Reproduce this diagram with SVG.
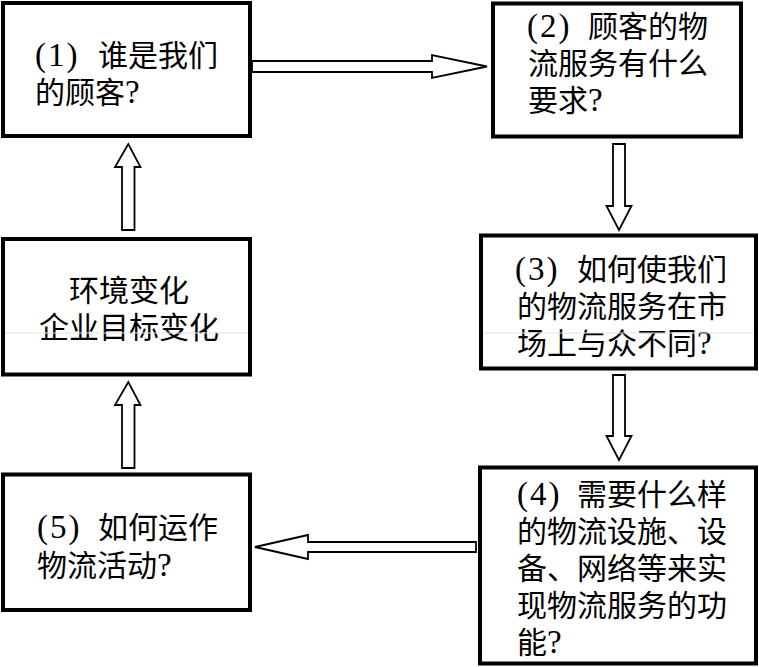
<svg xmlns="http://www.w3.org/2000/svg" width="759" height="667" viewBox="0 0 759 667">
<style>
.box{fill:#fff;stroke:#000;stroke-width:4}
.arr{fill:#fff;stroke:#000;stroke-width:1.8;stroke-linejoin:miter}
.t{font-family:"Liberation Serif","Noto Sans CJK SC",serif;font-size:30px;fill:#000}
.l{font-size:33px;letter-spacing:2px}
.c{text-anchor:middle}
.scan{stroke:#e2e2e2;stroke-width:1}
</style>
<rect width="759" height="667" fill="#fff"/>
<g id="n1">
<rect class="box" x="3" y="3" width="247" height="133"/>
<text class="t"><tspan class="l" x="35" y="66">(1)</tspan><tspan x="98" y="66">谁是我们</tspan><tspan x="35" y="103">的顾客</tspan><tspan class="l">?</tspan></text>
</g>
<g id="n2">
<rect class="box" x="493" y="3.5" width="248" height="133"/>
<text class="t"><tspan class="l" x="527" y="37">(2)</tspan><tspan x="588" y="37">顾客的物</tspan><tspan x="528" y="74">流服务有什么</tspan><tspan x="528" y="111">要求</tspan><tspan class="l">?</tspan></text>
</g>
<g id="n3">
<rect class="box" x="481" y="235.5" width="275" height="133"/>
<text class="t"><tspan class="l" x="515" y="280">(3)</tspan><tspan x="577" y="280">如何使我们</tspan><tspan x="517" y="317">的物流服务在市</tspan><tspan x="517" y="354">场上与众不同</tspan><tspan class="l">?</tspan></text>
</g>
<g id="n4">
<rect class="box" x="480" y="467.5" width="276" height="196"/>
<text class="t"><tspan class="l" x="517" y="505">(4)</tspan><tspan x="577" y="505">需要什么样</tspan><tspan x="517" y="542">的物流设施、设</tspan><tspan x="517" y="579">备、网络等来实</tspan><tspan x="517" y="616">现物流服务的功</tspan><tspan x="517" y="653">能</tspan><tspan class="l">?</tspan></text>
</g>
<g id="n5">
<rect class="box" x="3" y="474.5" width="247" height="135.5"/>
<text class="t"><tspan class="l" x="37" y="538">(5)</tspan><tspan x="98" y="538">如何运作</tspan><tspan x="37" y="576">物流活动</tspan><tspan class="l">?</tspan></text>
</g>
<g id="env">
<rect class="box" x="3" y="239" width="247" height="135.5"/>
<text class="t c"><tspan x="129" y="301">环境变化</tspan><tspan x="129" y="338">企业目标变化</tspan></text>
</g>
<g id="scanlines">
<line class="scan" x1="5" y1="333" x2="248" y2="333"/>
<line class="scan" x1="483" y1="333" x2="754" y2="333"/>
</g>
<g id="connectors">
<polygon class="arr" points="252,61 432,61 432,55 487,66.5 432,78 432,72 252,72"/>
<polygon class="arr" points="613,144 625,144 625,206 631.5,206 619,230 606.5,206 613,206"/>
<polygon class="arr" points="613,375 625,375 625,436 631.5,436 619,460 606.5,436 613,436"/>
<polygon class="arr" points="476,542 308,542 308,535 255,547 308,559 308,552 476,552"/>
<polygon class="arr" points="122,468 134.5,468 134.5,405 140.5,405 128.3,382 115,405 122,405"/>
<polygon class="arr" points="122,230 134.5,230 134.5,167 140.5,167 128.3,144 115,167 122,167"/>
</g>
</svg>
